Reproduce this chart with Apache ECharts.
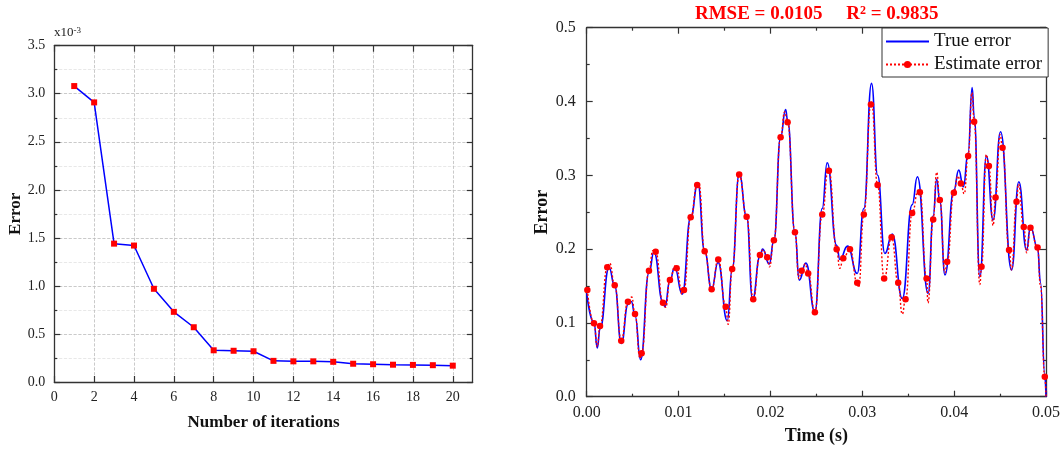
<!DOCTYPE html>
<html><head><meta charset="utf-8">
<script src="https://cdn.jsdelivr.net/npm/echarts@6/dist/echarts.min.js"></script>
<style>html,body{margin:0;padding:0;background:#fff}#c{width:1063px;height:461px}</style>
</head><body><div id="c"></div>
<script>
// ---------- Left chart data (Error, units of 1e-3) ----------
const iterations = [1,2,3,4,5,6,7,8,9,10,11,12,13,14,15,16,17,18,19,20];
const iterationError = [3.08,2.91,1.44,1.42,0.97,0.73,0.57,0.33,0.325,0.32,0.22,0.215,0.215,0.21,0.19,0.185,0.18,0.178,0.175,0.17];
const leftXTicks = [0,2,4,6,8,10,12,14,16,18,20];

// ---------- Right chart data ----------
const trueError = [
 [0,0.140],[0.0008,0.100],[0.00115,0.066],[0.00145,0.092],[0.00243,0.175],[0.00305,0.150],
 [0.00377,0.072],[0.0045,0.125],[0.00486,0.129],[0.00526,0.110],[0.00587,0.050],[0.00678,0.168],
 [0.00732,0.196],[0.0083,0.128],[0.00852,0.122],[0.00906,0.158],[0.00958,0.175],[0.0104,0.139],
 [0.01132,0.243],[0.0121,0.289],[0.01284,0.197],[0.0136,0.1455],[0.0143,0.182],[0.0153,0.103],
 [0.01584,0.173],[0.0166,0.302],[0.01741,0.244],[0.01806,0.132],[0.01886,0.19],[0.01915,0.200],
 [0.01987,0.180],[0.02038,0.212],[0.02111,0.352],[0.02165,0.389],[0.02187,0.375],[0.02267,0.223],
 [0.02314,0.158],[0.02386,0.181],[0.02484,0.115],[0.02564,0.255],[0.02618,0.317],[0.02721,0.205],
 [0.02756,0.186],[0.0284,0.204],[0.02945,0.167],[0.03017,0.255],[0.03101,0.4246],[0.03167,0.30],
 [0.03246,0.194],[0.03326,0.2205],[0.03435,0.133],[0.03543,0.26],[0.036,0.298],[0.03717,0.14],
 [0.03772,0.245],[0.0381,0.2946],[0.03844,0.265],[0.039,0.165],[0.03997,0.28],[0.0405,0.307],
 [0.041,0.2846],[0.04152,0.33],[0.04196,0.419],[0.04218,0.38],[0.0428,0.1626],[0.04352,0.326],
 [0.04424,0.2394],[0.04505,0.359],[0.04625,0.1717],[0.04704,0.2913],[0.04788,0.1988],[0.04831,0.230],
 [0.04908,0.202],[0.0494,0.155],[0.04987,0.03],[0.05,0.0]
];
const estimateMarkers = [
 [0.00007,0.1446],[0.00079,0.0995],[0.00145,0.0958],[0.00224,0.1753],[0.00305,0.151],[0.00376,0.0759],
 [0.00449,0.1287],[0.00526,0.112],[0.00598,0.0588],[0.00678,0.1707],[0.00751,0.1965],[0.0083,0.1274],
 [0.00906,0.158],[0.00979,0.174],[0.01059,0.1446],[0.01132,0.243],[0.01203,0.287],[0.01284,0.197],
 [0.0136,0.1455],[0.01432,0.186],[0.01513,0.122],[0.01584,0.173],[0.0166,0.301],[0.01741,0.244],
 [0.01813,0.132],[0.01886,0.192],[0.01965,0.189],[0.02038,0.212],[0.02111,0.3515],[0.02187,0.372],
 [0.02267,0.2228],[0.0234,0.1707],[0.02411,0.167],[0.02484,0.1144],[0.02564,0.247],[0.02637,0.306],
 [0.02721,0.1997],[0.02793,0.1875],[0.02866,0.1997],[0.02945,0.1545],[0.03017,0.247],[0.03094,0.396],
 [0.03167,0.287],[0.03238,0.160],[0.03319,0.216],[0.03391,0.1545],[0.03471,0.132],[0.03543,0.249],
 [0.03627,0.277],[0.037,0.160],[0.03772,0.240],[0.03844,0.2665],[0.03924,0.183],[0.03997,0.2764],
 [0.04073,0.289],[0.04152,0.326],[0.04218,0.3727],[0.04298,0.176],[0.04378,0.3126],[0.04451,0.270],
 [0.04527,0.3374],[0.04598,0.1988],[0.04679,0.264],[0.04758,0.230],[0.04831,0.229],[0.04908,0.202],
 [0.04987,0.027]
];
const estimateExtra = [
 [0.00115,0.068],[0.0025,0.181],[0.0049,0.135],[0.0058,0.052],[0.0072,0.198],[0.0086,0.121],
 [0.0096,0.177],[0.0104,0.139],[0.0122,0.289],[0.0154,0.098],[0.0192,0.199],[0.0199,0.176],
 [0.02155,0.386],[0.0231,0.16],[0.0238,0.18],[0.0263,0.308],[0.02755,0.174],[0.0296,0.148],
 [0.031,0.399],[0.03435,0.112],[0.0361,0.28],[0.03715,0.127],[0.0381,0.304],[0.039,0.168],
 [0.0404,0.299],[0.0411,0.275],[0.04195,0.412],[0.0428,0.152],[0.0435,0.328],[0.04424,0.232],
 [0.045,0.355],[0.04625,0.172],[0.047,0.288],[0.0479,0.195],[0.0494,0.15],[0.05,0.0]
];

const FONT = '"Liberation Serif", "Times New Roman", serif';
const AX = '#333';

const estimateData = estimateMarkers.map(p => ({value: p, symbol: 'circle'}))
  .concat(estimateExtra.map(p => ({value: p, symbol: 'none'})))
  .sort((a, b) => a.value[0] - b.value[0]);

function frameAxis(extra) {
  return Object.assign({
    type: 'value',
    axisLine: {show: true, onZero: false, lineStyle: {color: AX, width: 1.3}},
    axisTick: {show: true, inside: true, length: 6, lineStyle: {color: AX, width: 1.2}},
    minorTick: {show: false},
    axisLabel: {show: false},
    splitLine: {show: false}
  }, extra);
}
const tickLabel = (size) => ({show: true, fontFamily: FONT, fontSize: size, color: '#222'});
const nameStyle = (size) => ({fontFamily: FONT, fontSize: size, fontWeight: 'bold', color: '#111'});

const chart = echarts.init(document.getElementById('c'));
chart.setOption({
  animation: false,
  backgroundColor: '#fff',
  title: [
    {text: 'x10{s|-3}', left: 54, top: 26, padding: 0,
     textStyle: {fontFamily: FONT, fontSize: 13, fontWeight: 'normal', color: '#222',
       rich: {s: {fontFamily: FONT, fontSize: 9, color: '#222', verticalAlign: 'top'}}}},
    {text: 'RMSE = 0.0105     R{s|2} = 0.9835', left: 816.7, top: 5, padding: 0, textAlign: 'center',
     textStyle: {fontFamily: FONT, fontSize: 19, fontWeight: 'bold', color: '#ff0000',
       rich: {s: {fontFamily: FONT, fontSize: 12, fontWeight: 'bold', color: '#ff0000', verticalAlign: 'top'}}}}
  ],
  legend: {
    left: 882, top: 28, orient: 'vertical',
    padding: [4, 6, 3, 3], itemGap: 4, itemWidth: 43, itemHeight: 9, itemTextGap: 5,
    borderColor: '#333', borderWidth: 1, backgroundColor: '#fff',
    textStyle: {fontFamily: FONT, fontSize: 19, color: '#111', lineHeight: 19},
    data: [{name: 'True error', icon: 'path://M0 0H40V2H0Z'}, {name: 'Estimate error'}]
  },
  grid: [
    {left: 54.3, top: 45.7, right: 590.3, bottom: 79},
    {left: 586.7, top: 27.7, right: 16.3, bottom: 64.3}
  ],
  xAxis: [
    frameAxis({gridIndex: 0, position: 'bottom', min: 0, max: 21, interval: 1,
      axisTick: {show: true, inside: true, length: 6, customValues: leftXTicks, lineStyle: {color: AX, width: 1.2}},
      axisLabel: Object.assign(tickLabel(14), {customValues: leftXTicks, margin: 8}),
      splitLine: {show: true, lineStyle: {type: 'dashed', color: '#bdbdbd', width: 0.8}},
      name: 'Number of iterations', nameLocation: 'middle', nameGap: 32, nameTextStyle: nameStyle(17)}),
    frameAxis({gridIndex: 0, position: 'top', min: 0, max: 21, interval: 1,
      axisTick: {show: true, inside: true, length: 6, customValues: leftXTicks, lineStyle: {color: AX, width: 1.2}}}),
    frameAxis({gridIndex: 1, position: 'bottom', min: 0, max: 0.05, interval: 0.01,
      minorTick: {show: true, splitNumber: 2, length: 3, lineStyle: {color: AX, width: 1.2}},
      axisLabel: Object.assign(tickLabel(16), {margin: 8, formatter: v => v.toFixed(2)}),
      name: 'Time (s)', nameLocation: 'middle', nameGap: 31, nameTextStyle: nameStyle(18)}),
    frameAxis({gridIndex: 1, position: 'top', min: 0, max: 0.05, interval: 0.01,
      minorTick: {show: true, splitNumber: 2, length: 3, lineStyle: {color: AX, width: 1.2}}})
  ],
  yAxis: [
    frameAxis({gridIndex: 0, position: 'left', min: 0, max: 3.5, interval: 0.5,
      minorTick: {show: true, splitNumber: 2, length: 3, lineStyle: {color: AX, width: 1.2}},
      axisLabel: Object.assign(tickLabel(14), {margin: 9, formatter: v => v.toFixed(1)}),
      splitLine: {show: true, lineStyle: {type: 'dashed', color: '#bdbdbd', width: 0.8}},
      minorSplitLine: {show: true, lineStyle: {type: 'dashed', color: '#e2e2e2', width: 0.8}},
      name: 'Error', nameLocation: 'middle', nameGap: 29, nameTextStyle: nameStyle(17)}),
    frameAxis({gridIndex: 0, position: 'right', min: 0, max: 3.5, interval: 0.5,
      minorTick: {show: true, splitNumber: 2, length: 3, lineStyle: {color: AX, width: 1.2}}}),
    frameAxis({gridIndex: 1, position: 'left', min: 0, max: 0.5, interval: 0.1,
      minorTick: {show: true, splitNumber: 2, length: 3, lineStyle: {color: AX, width: 1.2}},
      axisLabel: Object.assign(tickLabel(16), {margin: 11, formatter: v => v.toFixed(1)}),
      name: 'Error', nameLocation: 'middle', nameGap: 31, nameTextStyle: nameStyle(18)}),
    frameAxis({gridIndex: 1, position: 'right', min: 0, max: 0.5, interval: 0.1,
      minorTick: {show: true, splitNumber: 2, length: 3, lineStyle: {color: AX, width: 1.2}}})
  ],
  series: [
    {type: 'line', xAxisIndex: 0, yAxisIndex: 0,
     data: iterations.map((x, i) => [x, iterationError[i]]),
     lineStyle: {color: '#0000ff', width: 1.5},
     symbol: 'rect', symbolSize: 6, itemStyle: {color: '#ff0000'}, z: 3},
    {name: 'True error', type: 'line', xAxisIndex: 2, yAxisIndex: 2,
     data: trueError, smooth: 0.5, smoothMonotone: 'x', showSymbol: false,
     color: '#0000ff', lineStyle: {color: '#0000ff', width: 1.6}, itemStyle: {color: '#0000ff'}},
    {name: 'Estimate error', type: 'line', xAxisIndex: 2, yAxisIndex: 2,
     data: estimateData, smooth: 0.5, smoothMonotone: 'x', showAllSymbol: true,
     symbol: 'circle', symbolSize: 6.5, color: '#ff0000',
     lineStyle: {color: '#ff0000', width: 1.4, type: [2, 2]}, itemStyle: {color: '#ff0000'}}
  ]
});
</script>
</body></html>
